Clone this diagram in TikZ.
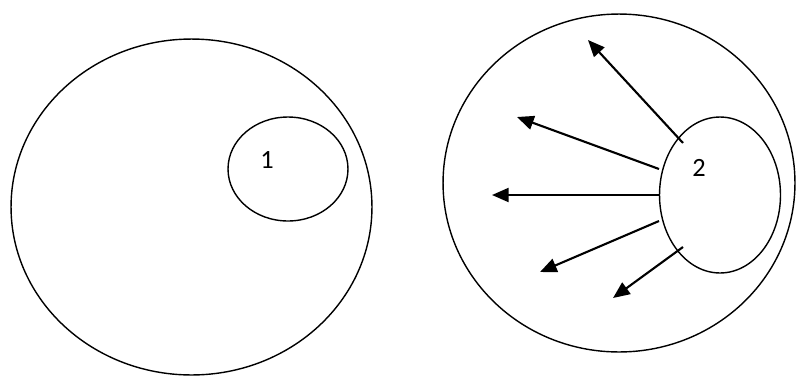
\documentclass[tikz,border=0pt]{standalone}
\usepackage{fontspec}
\setmainfont{Carlito}
\usetikzlibrary{shapes.geometric,arrows.meta}
\tikzset{
  ring/.style={draw,ellipse,inner sep=0pt,line width=0.8pt},
  flow/.style={-{Triangle[length=9.5pt,width=8pt]},line width=1.2pt},
  tag/.style={font=\fontsize{15}{18}\selectfont,inner sep=0pt},
}
\begin{document}
\begin{tikzpicture}[x=0.02cm,y=-0.02cm]
  \useasboundingbox (0,0) rectangle (797,376);
  \node[ring,minimum width=7.22cm,minimum height=6.72cm] (big1) at (191.5,207) {};
  \node[ring,minimum width=2.4cm,minimum height=2.08cm] (cell1) at (288,169) {};
  \node[tag] (lab1) at (267,160) {1};
  \node[ring,minimum width=7.04cm,minimum height=6.76cm] (big2) at (619,183) {};
  \node[ring,minimum width=2.42cm,minimum height=3.12cm] (cell2) at (720,195) {};
  \node[tag] (lab2) at (699,168) {2};
  \coordinate (s1) at (683,143);
  \coordinate (s2) at (659,169);
  \coordinate (s3) at (659,195);
  \coordinate (s4) at (659,221);
  \coordinate (s5) at (683,247);
  \coordinate (t1) at (588,40);
  \coordinate (t2) at (517,117);
  \coordinate (t3) at (492,195);
  \coordinate (t4) at (540,272);
  \coordinate (t5) at (613,298);
  \draw[flow] (s1) -- (t1);
  \draw[flow] (s2) -- (t2);
  \draw[flow] (s3) -- (t3);
  \draw[flow] (s4) -- (t4);
  \draw[flow] (s5) -- (t5);
\end{tikzpicture}
\end{document}
